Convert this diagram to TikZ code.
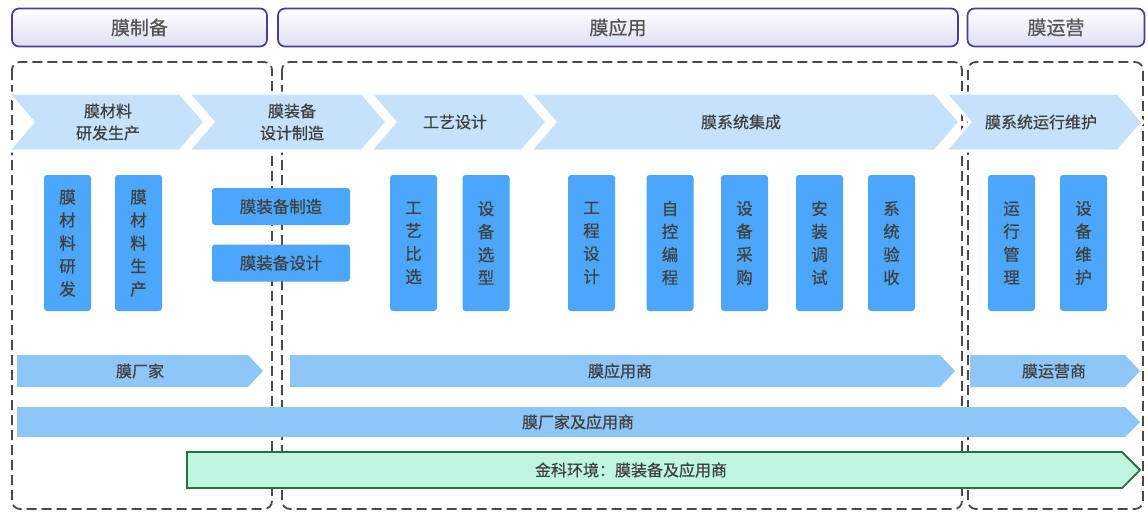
\documentclass[tikz,border=0pt]{standalone}
\usepackage{fontspec}
\setmainfont{Noto Sans CJK SC}[FakeBold=0.7]
\definecolor{hdr}{HTML}{4A3C9C}
\definecolor{hdrbot}{HTML}{DCE1F4}
\definecolor{dashgray}{HTML}{4A4A4A}
\definecolor{chevblue}{HTML}{C6E2FA}
\definecolor{boxblue}{HTML}{4CA6FA}
\definecolor{barblue}{HTML}{8EC6F7}
\definecolor{gfill}{HTML}{C0F6DD}
\definecolor{gdraw}{HTML}{2A6E46}
\definecolor{txt}{HTML}{404040}
\definecolor{htxt}{HTML}{555555}
\tikzset{
  header/.style={draw=hdr, line width=1.7pt, rounded corners=7pt, top color=white, bottom color=hdrbot, text=htxt, font=\fontsize{19}{21}\selectfont},
  region/.style={draw=dashgray, line width=1.8pt, dash pattern=on 10pt off 5pt, rounded corners=8pt},
  chev/.style={fill=chevblue, draw=white, line width=3pt},
  ctext/.style={text=txt, align=center, font=\fontsize{16}{22}\selectfont},
  vbox/.style={fill=boxblue, rounded corners=3pt, minimum width=47pt, minimum height=136pt, inner sep=0pt, text=txt, align=center, font=\fontsize{16.5}{23}\selectfont},
  hbox/.style={fill=boxblue, rounded corners=3pt, minimum width=138pt, minimum height=37pt, inner sep=0pt, text=txt, font=\fontsize{16.5}{20}\selectfont},
  bar/.style={fill=barblue},
  gbar/.style={fill=gfill, draw=gdraw, line width=1.8pt},
  btext/.style={text=txt, font=\fontsize{16}{20}\selectfont}
}
\begin{document}
\begin{tikzpicture}[x=1pt,y=-1pt]
\useasboundingbox (0,0) rectangle (1148,512);
% headers
\node[header, minimum width=255pt, minimum height=38pt] (h1) at (139.5,27.5) {膜制备};
\node[header, minimum width=680pt, minimum height=38pt] (h2) at (618,27.5) {膜应用};
\node[header, minimum width=177pt, minimum height=38pt] (h3) at (1056,27.5) {膜运营};
% dashed regions
\draw[region] (12,62) rectangle (272,509);
\draw[region] (282,62) rectangle (962,509);
\draw[region] (968,62) rectangle (1143,509);
% chevrons
\path[chev] (8,93) -- (180,93) -- (205,122) -- (180,151) -- (8,151) -- (33,122) -- cycle;
\path[chev] (188,93) -- (362,93) -- (387,122) -- (362,151) -- (188,151) -- (213,122) -- cycle;
\path[chev] (370,93) -- (522,93) -- (547,122) -- (522,151) -- (370,151) -- (395,122) -- cycle;
\path[chev] (530,93) -- (935,93) -- (960,122) -- (935,151) -- (530,151) -- (555,122) -- cycle;
\path[chev] (945,93) -- (1118,93) -- (1143,122) -- (1118,151) -- (945,151) -- (970,122) -- cycle;
\node[ctext] (c1) at (108,122) {膜材料\\研发生产};
\node[ctext] (c2) at (292,122) {膜装备\\设计制造};
\node[ctext] (c3) at (455,122) {工艺设计};
\node[ctext] (c4) at (741,122) {膜系统集成};
\node[ctext] (c5) at (1041,122) {膜系统运行维护};
% boxes
\node[vbox] (b1) at (67.5,243) {膜\\材\\料\\研\\发};
\node[vbox] (b2) at (138.5,243) {膜\\材\\料\\生\\产};
\node[hbox] (b3) at (281,206.5) {膜装备制造};
\node[hbox] (b4) at (281,263) {膜装备设计};
\node[vbox] (b5) at (413.5,243) {工\\艺\\比\\选};
\node[vbox] (b6) at (486,243) {设\\备\\选\\型};
\node[vbox] (b7) at (591.5,243) {工\\程\\设\\计};
\node[vbox] (b8) at (670,243) {自\\控\\编\\程};
\node[vbox] (b9) at (744.5,243) {设\\备\\采\\购};
\node[vbox] (b10) at (819.5,243) {安\\装\\调\\试};
\node[vbox] (b11) at (891.5,243) {系\\统\\验\\收};
\node[vbox] (b12) at (1011.5,243) {运\\行\\管\\理};
\node[vbox] (b13) at (1083.5,243) {设\\备\\维\\护};
% bars
\path[bar] (17,355) -- (248,355) -- (263,371) -- (248,387) -- (17,387) -- cycle;
\node[btext] (r1) at (140,371) {膜厂家};
\path[bar] (290,355) -- (940,355) -- (955,371) -- (940,387) -- (290,387) -- cycle;
\node[btext] (r2) at (620,371) {膜应用商};
\path[bar] (970,355) -- (1125,355) -- (1140,371) -- (1125,387) -- (970,387) -- cycle;
\node[btext] (r3) at (1054,371) {膜运营商};
\path[bar] (17,407) -- (1125,407) -- (1140,422) -- (1125,437) -- (17,437) -- cycle;
\node[btext] (r4) at (578,422) {膜厂家及应用商};
\path[gbar] (187,452) -- (1122,452) -- (1140,470) -- (1122,488) -- (187,488) -- cycle;
\node[btext] (r5) at (631,470) {金科环境：膜装备及应用商};
\end{tikzpicture}
\end{document}
